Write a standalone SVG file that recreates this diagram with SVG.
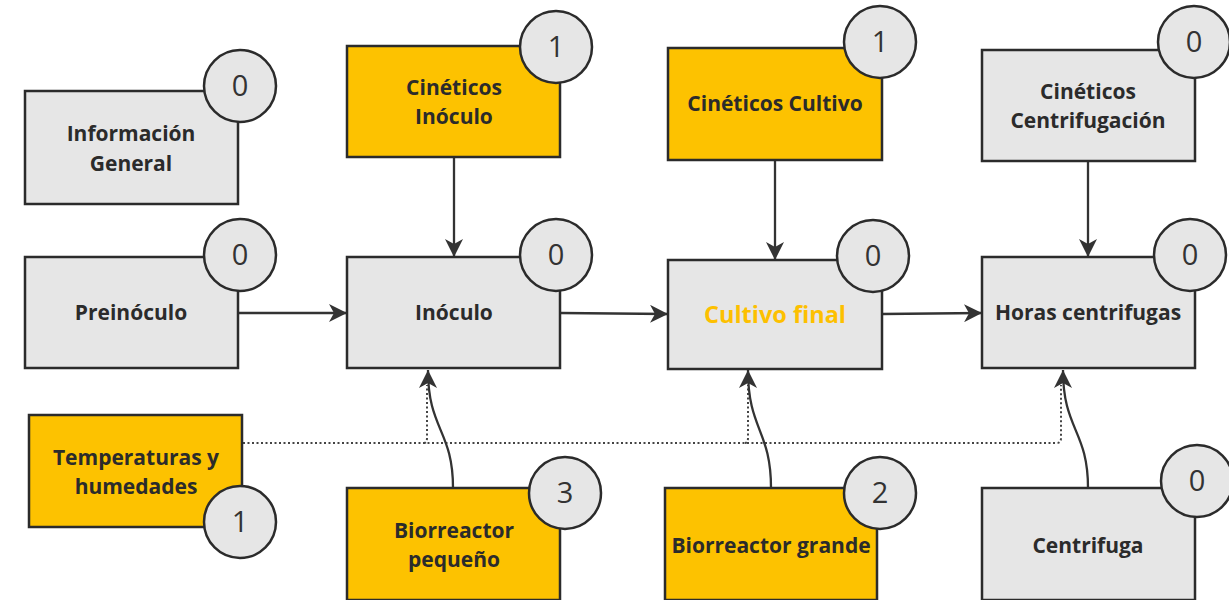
<svg xmlns="http://www.w3.org/2000/svg" width="1229" height="600" viewBox="0 0 1229 600">
<defs>
<marker id="arr" markerUnits="userSpaceOnUse" markerWidth="20" markerHeight="18" refX="18" refY="9" orient="auto">
<path d="M0,0 L18,9 L0,18 L5,9 Z" fill="#333"/>
</marker>
<style>
.box{stroke:#2b2b2b;stroke-width:2.5}
.g{fill:#e6e6e6}
.y{fill:#fdc200}
.badge{fill:#e6e6e6;stroke:#2b2b2b;stroke-width:2.5}
.lbl{font-family:"Open Sans","Noto Sans",sans-serif;font-weight:bold;font-size:21px;fill:#2b2b2b;text-anchor:middle}
.num{font-family:"Open Sans","Noto Sans",sans-serif;font-size:29px;fill:#333;text-anchor:middle}
.ln{fill:none;stroke:#333;stroke-width:2.3}
.dot{fill:none;stroke:#444;stroke-width:2;stroke-dasharray:2 2.5}
</style>
</defs>
<rect width="1229" height="600" fill="#fff"/>

<g id="connectors">
<path class="dot" d="M243,443 H1057 Q1061,443 1061,438 V385"/>
<path class="dot" d="M424,443 Q427,443 427,438 V385"/>
<path class="dot" d="M745,443 Q748,443 748,438 V385"/>
<line class="ln" x1="238" y1="313" x2="347" y2="313" marker-end="url(#arr)"/>
<line class="ln" x1="560" y1="313" x2="668" y2="314" marker-end="url(#arr)"/>
<line class="ln" x1="882" y1="314" x2="982" y2="313" marker-end="url(#arr)"/>
<line class="ln" x1="454" y1="157" x2="454" y2="257" marker-end="url(#arr)"/>
<line class="ln" x1="775" y1="160" x2="775" y2="260" marker-end="url(#arr)"/>
<line class="ln" x1="1088" y1="161" x2="1088" y2="257" marker-end="url(#arr)"/>
<path class="ln" d="M453,488 C453,430 428,430 428,370" marker-end="url(#arr)"/>
<path class="ln" d="M771,488 C771,430 748,430 748,370" marker-end="url(#arr)"/>
<path class="ln" d="M1088,488 C1088,430 1063,430 1063,370" marker-end="url(#arr)"/>
</g>

<g id="informacion-general">
<rect class="box g" x="25" y="91" width="213" height="113"/>
<text class="lbl" x="131" y="141">Información</text>
<text class="lbl" x="131" y="171">General</text>
<circle class="badge" cx="240" cy="86" r="36"/>
<text class="num" x="240" y="96">0</text>
</g>

<g id="cineticos-inoculo">
<rect class="box y" x="347" y="46" width="213" height="111"/>
<text class="lbl" x="454" y="95">Cinéticos</text>
<text class="lbl" x="454" y="124">Inóculo</text>
<circle class="badge" cx="556" cy="47" r="36"/>
<text class="num" x="556" y="57">1</text>
</g>

<g id="cineticos-cultivo">
<rect class="box y" x="668" y="48" width="214" height="112"/>
<text class="lbl" x="775" y="111">Cinéticos Cultivo</text>
<circle class="badge" cx="880" cy="42" r="36"/>
<text class="num" x="880" y="52">1</text>
</g>

<g id="cineticos-centrifugacion">
<rect class="box g" x="982" y="50" width="213" height="111"/>
<text class="lbl" x="1088" y="99">Cinéticos</text>
<text class="lbl" x="1088" y="128">Centrifugación</text>
<circle class="badge" cx="1194" cy="42" r="36"/>
<text class="num" x="1194" y="52">0</text>
</g>

<g id="preinoculo">
<rect class="box g" x="25" y="257" width="213" height="111"/>
<text class="lbl" x="131" y="320">Preinóculo</text>
<circle class="badge" cx="240" cy="255" r="36"/>
<text class="num" x="240" y="265">0</text>
</g>

<g id="inoculo">
<rect class="box g" x="347" y="257" width="213" height="111"/>
<text class="lbl" x="454" y="320">Inóculo</text>
<circle class="badge" cx="556" cy="255" r="36"/>
<text class="num" x="556" y="265">0</text>
</g>

<g id="cultivo-final">
<rect class="box g" x="668" y="260" width="214" height="109"/>
<text class="lbl" x="775" y="323" style="fill:#fdc000;font-size:23.5px">Cultivo final</text>
<circle class="badge" cx="873" cy="256" r="36"/>
<text class="num" x="873" y="266">0</text>
</g>

<g id="horas-centrifugas">
<rect class="box g" x="982" y="257" width="213" height="111"/>
<text class="lbl" x="1088" y="320">Horas centrifugas</text>
<circle class="badge" cx="1190" cy="255" r="36"/>
<text class="num" x="1190" y="265">0</text>
</g>

<g id="temperaturas-humedades">
<rect class="box y" x="29" y="415" width="213" height="112"/>
<text class="lbl" x="136" y="465">Temperaturas y</text>
<text class="lbl" x="136" y="494">humedades</text>
<circle class="badge" cx="240" cy="522" r="36"/>
<text class="num" x="240" y="532">1</text>
</g>

<g id="biorreactor-pequeno">
<rect class="box y" x="347" y="488" width="213" height="112"/>
<text class="lbl" x="454" y="538">Biorreactor</text>
<text class="lbl" x="454" y="567">pequeño</text>
<circle class="badge" cx="565" cy="493" r="36"/>
<text class="num" x="565" y="503">3</text>
</g>

<g id="biorreactor-grande">
<rect class="box y" x="665" y="488" width="212" height="112"/>
<text class="lbl" x="771" y="553">Biorreactor grande</text>
<circle class="badge" cx="880" cy="493" r="36"/>
<text class="num" x="880" y="503">2</text>
</g>

<g id="centrifuga">
<rect class="box g" x="982" y="488" width="213" height="112"/>
<text class="lbl" x="1088" y="553">Centrifuga</text>
<circle class="badge" cx="1197" cy="481" r="36"/>
<text class="num" x="1197" y="491">0</text>
</g>
</svg>
